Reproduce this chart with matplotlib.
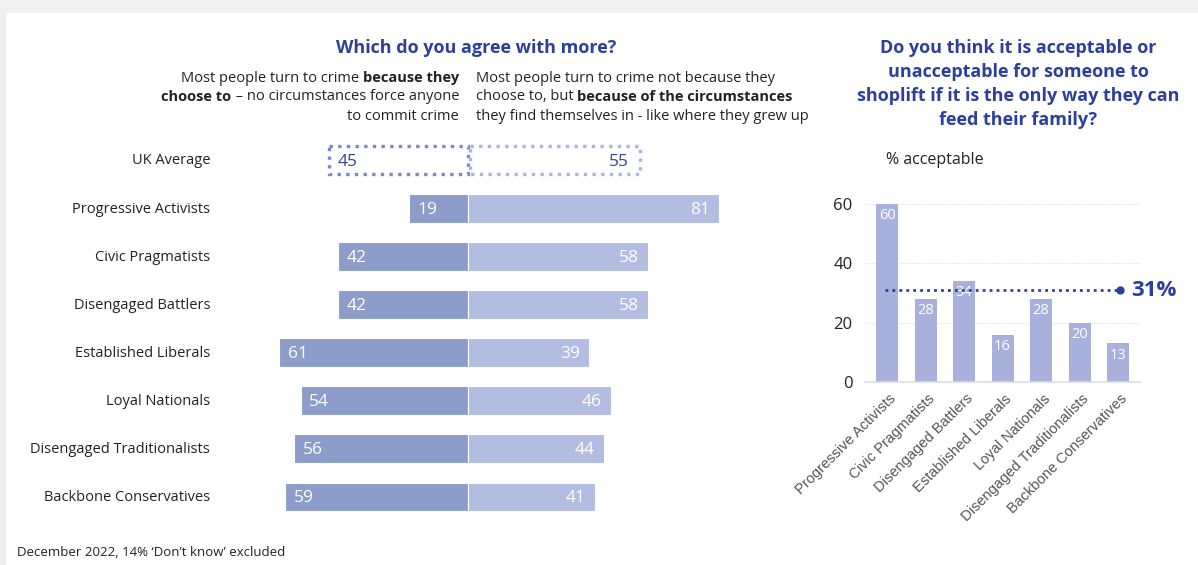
import matplotlib
matplotlib.use("Agg")
import matplotlib.pyplot as plt
from matplotlib.patches import Rectangle
from matplotlib.transforms import ScaledTranslation

plt.rcParams['font.family'] = ['Open Sans', 'DejaVu Sans']

# ---- data ----
segments = ["UK Average", "Progressive Activists", "Civic Pragmatists",
            "Disengaged Battlers", "Established Liberals", "Loyal Nationals",
            "Disengaged Traditionalists", "Backbone Conservatives"]
choose_to = [45, 19, 42, 42, 61, 54, 56, 59]
circumstances = [55, 81, 58, 58, 39, 46, 44, 41]

shoplift_groups = segments[1:]
shoplift_acceptable = [60, 28, 34, 16, 28, 20, 13]
shoplift_average = 31
y_ticks = [0, 20, 40, 60]

# ---- styling ----
W, H = 1198, 565
BLUE = "#2b409c"
LEFT_C = "#8c9dc9"
RIGHT_C = "#b3bde1"
BAR2_C = "#a7b1dc"
TXT = "#222222"

fig = plt.figure(figsize=(W / 100, H / 100), dpi=100)
fig.patch.set_facecolor("white")


def add_axes_px(x0, y0, x1, y1):
    return fig.add_axes([x0 / W, 1 - y1 / H, (x1 - x0) / W, (y1 - y0) / H])


# page frame
fig.patches.append(Rectangle((0, 1 - 13 / H), 1, 13 / H, transform=fig.transFigure,
                             facecolor="#f0f0f0", edgecolor="none", zorder=0))
fig.patches.append(Rectangle((0, 0), 6 / W, 1, transform=fig.transFigure,
                             facecolor="#f0f0f0", edgecolor="none", zorder=0))

renderer = fig.canvas.get_renderer()


def rich_line(x, y, runs, ha="left", size=10.5, color=TXT):
    """Draw a line made of (text, weight) runs."""
    widths = []
    for s, w in runs:
        t = fig.text(0, 0, s.replace(" ", "\u00a0"), fontsize=size, fontweight=w)
        widths.append(t.get_window_extent(renderer).width)
        t.remove()
    total = sum(widths)
    cur = x if ha == "left" else x - total
    for (s, w), wd in zip(runs, widths):
        fig.text(cur / W, 1 - y / H, s.replace(" ", "\u00a0"), fontsize=size,
                 fontweight=w, color=color, va="center", ha="left")
        cur += wd


# ---- left: diverging bars ----
axL = add_axes_px(150, 136, 800, 521)
CENTER_PX, SCALE = 468, 3.1
axL.set_xlim(-(CENTER_PX - 150) / SCALE, (800 - CENTER_PX) / SCALE)
axL.set_ylim(len(segments) - 0.5, -0.5)
axL.axis("off")

bh = 0.6
for i, (a, b) in enumerate(zip(choose_to, circumstances)):
    if i == 0:
        axL.add_patch(Rectangle((-a, i - 0.29), a, 0.58, facecolor="none",
                                edgecolor="#7b89c8", linestyle=(0, (1, 1.6)), lw=2.4))
        axL.add_patch(Rectangle((0.6, i - 0.29), b, 0.58, facecolor="none",
                                edgecolor="#aab4de", linestyle=(0, (1, 1.6)), lw=2.4))
        lc = rc = "#34479c"
    else:
        axL.barh(i, -a, height=bh, color=LEFT_C, edgecolor="white", lw=0.8)
        axL.barh(i, b, height=bh, color=RIGHT_C, edgecolor="white", lw=0.8)
        lc = rc = "white"
    axL.text(-a + 2.8, i + 0.03, f"{a}", color=lc, fontsize=12.5, va="center", ha="left")
    axL.text(b - 3.0, i + 0.03, f"{b}", color=rc, fontsize=12.5, va="center", ha="right")
    fig.text(210 / W, 1 - (161 + 48.14 * i) / H, segments[i], fontsize=10.5,
             color=TXT, ha="right", va="center")

fig.text(476 / W, 1 - 48 / H, "Which do you agree with more?", fontsize=13,
         fontweight="bold", color=BLUE, ha="center", va="center")

rich_line(459, 78, [("Most people turn to crime ", "normal"), ("because they", "bold")], ha="right")
rich_line(459, 97, [("choose to", "bold"), (" \u2013 no circumstances force anyone", "normal")], ha="right")
rich_line(459, 116, [("to commit crime", "normal")], ha="right")
rich_line(476, 78, [("Most people turn to crime not because they", "normal")])
rich_line(476, 97, [("choose to, but ", "normal"), ("because of the circumstances", "bold")])
rich_line(476, 116, [("they find themselves in - like where they grew up", "normal")])

# ---- right: column chart ----
axR = add_axes_px(865, 190, 1140, 382)
step = 38.5
axR.set_xlim(-22 / step, 6 + 22 / step)
axR.set_ylim(0, (382 - 190) / 2.967)
xs = list(range(len(shoplift_groups)))
axR.bar(xs, shoplift_acceptable, width=22 / step, color=BAR2_C, zorder=2)
for x, v in zip(xs, shoplift_acceptable):
    axR.text(x, v - 1.4, f"{v}", color="white", fontsize=10.5, ha="center", va="top", zorder=3)

axR.set_yticks(y_ticks)
axR.set_yticklabels([str(t) for t in y_ticks], fontsize=12, color=TXT)
axR.yaxis.grid(True, color="#e3e3e3", linestyle=(0, (1, 1)), lw=0.8, zorder=0)
axR.tick_params(axis="y", length=0, pad=9)
axR.tick_params(axis="x", length=0, pad=7)
axR.set_xticks(xs)
axR.set_xticklabels(shoplift_groups, rotation=45, ha="right", rotation_mode="anchor",
                    fontsize=10.5, color="#555555", family=["Liberation Sans", "DejaVu Sans"])
for lbl in axR.get_xticklabels():
    lbl.set_transform(lbl.get_transform() + ScaledTranslation(2 / 100, 0, fig.dpi_scale_trans))
for s in ["top", "right", "left"]:
    axR.spines[s].set_visible(False)
axR.spines["bottom"].set_color("#dddddd")
axR.spines["bottom"].set_linewidth(1.2)
axR.set_facecolor("none")

axR.plot([-0.05, 6.05], [shoplift_average] * 2, color=BLUE, lw=2,
         linestyle=(0, (1, 1.5)), zorder=4, clip_on=False)
axR.plot([6.05], [shoplift_average], "o", color=BLUE, ms=5, zorder=4, clip_on=False)
axR.text(6.35, shoplift_average, f"{shoplift_average}%", color=BLUE, fontsize=16,
         fontweight="bold", ha="left", va="center", clip_on=False)

for k, line in enumerate(["Do you think it is acceptable or",
                          "unacceptable for someone to",
                          "shoplift if it is the only way they can",
                          "feed their family?"]):
    fig.text(1018 / W, 1 - (48 + 24 * k) / H, line, fontsize=13, fontweight="bold",
             color=BLUE, ha="center", va="center")

fig.text(886 / W, 1 - 160 / H, "% acceptable", fontsize=11.5, color=TXT,
         ha="left", va="center")

fig.text(17 / W, 1 - 553 / H, "December 2022, 14% \u2018Don\u2019t know\u2019 excluded",
         fontsize=9.5, color=TXT, ha="left", va="center")

fig.savefig("out.png", dpi=100, facecolor="white")
